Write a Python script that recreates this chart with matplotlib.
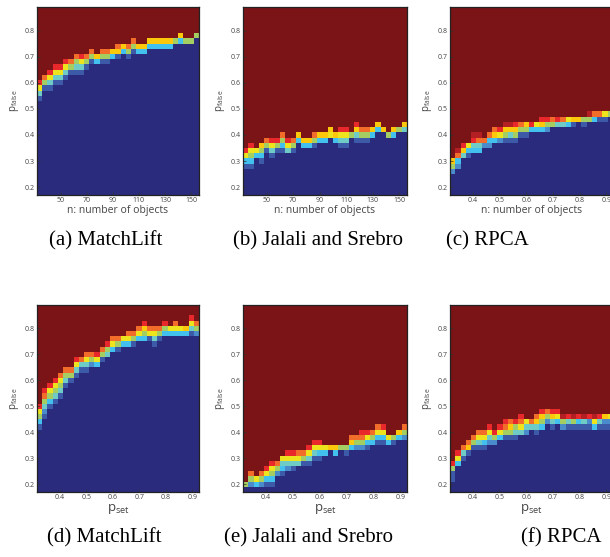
import numpy as np
import matplotlib
matplotlib.use("Agg")
import matplotlib.pyplot as plt
from matplotlib.colors import ListedColormap

plt.rcParams['font.family'] = ['Open Sans', 'DejaVu Sans']

# colour levels: dark blue (0) ... dark red (11)
level_colors = ['#2b2b7e', '#3d5aa8', '#4a8bcb', '#43c1ee', '#6ecbc6', '#a4ce62',
                '#eee41e', '#fdc80b', '#f26c2a', '#e8282a', '#b41f24', '#7b1416']
codes = '0123456789AB'

n_rows = 36
n_cols = 31
p_false_edges = [0.17, 0.89]
n_edges = [32, 156]
p_set_edges = [0.315, 0.925]
n_ticks = [50, 70, 90, 110, 130, 150]
p_set_ticks = [0.4, 0.5, 0.6, 0.7, 0.8, 0.9]
p_false_ticks = [0.2, 0.3, 0.4, 0.5, 0.6, 0.7, 0.8]

# per column: highest row that is fully blue, then the transition cells going up
matchlift_n_top = [17, 19, 19, 20, 20, 21, 22, 22, 22, 23, 24, 24, 24, 24, 25, 25,
                   26, 25, 26, 26, 26, 27, 27, 27, 27, 27, 28, 28, 28, 28, 29]
matchlift_n_band = ['1469', '158', '1469', '1469', '1469', '1469', '158', '1458', '1469', '158',
                    '158', '37', '158', '158', '37', '178', '37', '158', '158', '37', '37',
                    '37', '37', '37', '37', '37', '5', '37', '5', '5', '5']

jalali_n_top = [4, 4, 6, 5, 7, 6, 7, 7, 7, 7, 9, 8, 8, 8, 9, 9,
                10, 9, 8, 8, 10, 9, 9, 9, 10, 11, 11, 10, 10, 11, 11]
jalali_n_band = ['1369', '13569', '36', '1357', '158', '1469', '159', '1358', '469', '158',
                 '37', '37', '37', '158', '37', '37', '67', '37', '1469', '1469', '5',
                 '1479', '158', '158', '37', '37', '7', '5', '37', '5', '47']

rpca_n_top = [3, 4, 6, 6, 7, 7, 8, 8, 9, 9, 9, 9, 9, 10, 10, 11,
              11, 11, 11, 12, 12, 12, 12, 12, 13, 12, 13, 13, 13, 13, 14]
rpca_n_band = ['257', '238A', '479', '136', '349A', '348A', '28', '238', '378', '269',
               '157A', '147A', '1579', '158', '157', '39', '36', '379', '259', '58', '49',
               '48', '36', '17', '7', '15', '5A', '38', '18', '16', '5']

matchlift_p_top = [11, 13, 15, 16, 17, 19, 20, 21, 22, 22, 23, 23, 24, 25, 26, 26,
                   27, 27, 27, 28, 28, 28, 27, 28, 29, 29, 29, 29, 29, 29, 29]
matchlift_p_band = ['13569', '124589', '13569', '14569', '14568', '1458', '158', '1469', '148', '1468',
                    '258', '369', '158', '459', '368', '158', '36', '368', '158', '368', '3579',
                    '168', '1468', '158', '359', '36', '368', '36', '37', '1469', '258']

jalali_p_top = [0, 0, 0, 0, 0, 0, 2, 2, 3, 3, 4, 4, 4, 5, 5, 6,
                7, 6, 7, 6, 7, 7, 7, 7, 8, 8, 8, 8, 8, 9, 9]
jalali_p_band = ['5', '258', '36', '258', '1369', '13569', '258', '1346', '2469', '1469',
                 '468', '158', '1469', '1469', '1369', '36', '7', '37', '5', '15', '378',
                 '258', '2589', '1369', '358', '1368', '1369', '36', '15', '37', '258']

rpca_p_top = [1, 4, 5, 6, 7, 7, 7, 8, 8, 9, 9, 9, 9, 10, 10, 11,
              10, 11, 12, 11, 12, 11, 11, 11, 11, 11, 11, 11, 11, 11, 11]
rpca_p_band = ['1159', '369', '148', '178', '158', '1468', '1368', '2469', '259', '369',
               '1589', '1578', '1459', '4689', '246', '48', '1478', '3579', '258', '1479', '369',
               '25A', '149', '15A', '139', '14A', '129', '36A', '149', '127', '126']


def build_grid(tops, bands):
    grid = np.full((n_rows, n_cols), 11)
    for c in range(n_cols):
        grid[:tops[c] + 1, c] = 0
        for k, ch in enumerate(bands[c]):
            grid[tops[c] + 1 + k, c] = codes.index(ch)
    return grid


panels = [
    (build_grid(matchlift_n_top, matchlift_n_band), n_edges, n_ticks, 'n', '(a) MatchLift'),
    (build_grid(jalali_n_top, jalali_n_band), n_edges, n_ticks, 'n', '(b) Jalali and Srebro'),
    (build_grid(rpca_n_top, rpca_n_band), p_set_edges, p_set_ticks, 'n', '(c) RPCA'),
    (build_grid(matchlift_p_top, matchlift_p_band), p_set_edges, p_set_ticks, 'p', '(d) MatchLift'),
    (build_grid(jalali_p_top, jalali_p_band), p_set_edges, p_set_ticks, 'p', '(e) Jalali and Srebro'),
    (build_grid(rpca_p_top, rpca_p_band), p_set_edges, p_set_ticks, 'p', '(f) RPCA'),
]

cmap = ListedColormap(level_colors)

fig = plt.figure(figsize=(6.1, 5.57), dpi=100)
W, H = 610.0, 557.0
lefts = [37, 243, 450]
widths = [162, 164, 163]
tops_px = [7, 305]
heights = [188, 187]
caption_x = [[106, 318, 487], [104, 308, 561]]
caption_y = [241, 538]

for i, (grid, xedges, xticks, kind, caption) in enumerate(panels):
    row, col = divmod(i, 3)
    ax = fig.add_axes([lefts[col] / W, 1 - (tops_px[row] + heights[row]) / H,
                       widths[col] / W, heights[row] / H])
    ax.imshow(grid, cmap=cmap, vmin=-0.5, vmax=11.5, origin='lower', aspect='auto',
              interpolation='nearest',
              extent=[xedges[0], xedges[1], p_false_edges[0], p_false_edges[1]])
    ax.set_xticks(xticks)
    ax.set_yticks(p_false_ticks)
    ax.set_xticklabels([str(t) for t in xticks])
    ax.set_yticklabels([str(t) for t in p_false_ticks])
    ax.tick_params(direction='in', length=2, width=0.5, labelsize=5, pad=1.5,
                   colors='#333333', labelcolor='#444444')
    for s in ax.spines.values():
        s.set_linewidth(0.9)
        s.set_color('#222222')
    ax.set_ylabel(r'$\mathregular{p_{false}}$', fontsize=7, color='#444444', labelpad=3)
    if kind == 'n':
        ax.set_xlabel('n: number of objects', fontsize=7.5, color='#444444', labelpad=1)
    else:
        ax.set_xlabel(r'$\mathregular{p_{set}}$', fontsize=9.5, color='#444444', labelpad=1)
    fig.text(caption_x[row][col] / W, 1 - caption_y[row] / H, caption,
             family='Liberation Serif', fontsize=15, ha='center', va='center')

fig.savefig('out.png', dpi=100)
